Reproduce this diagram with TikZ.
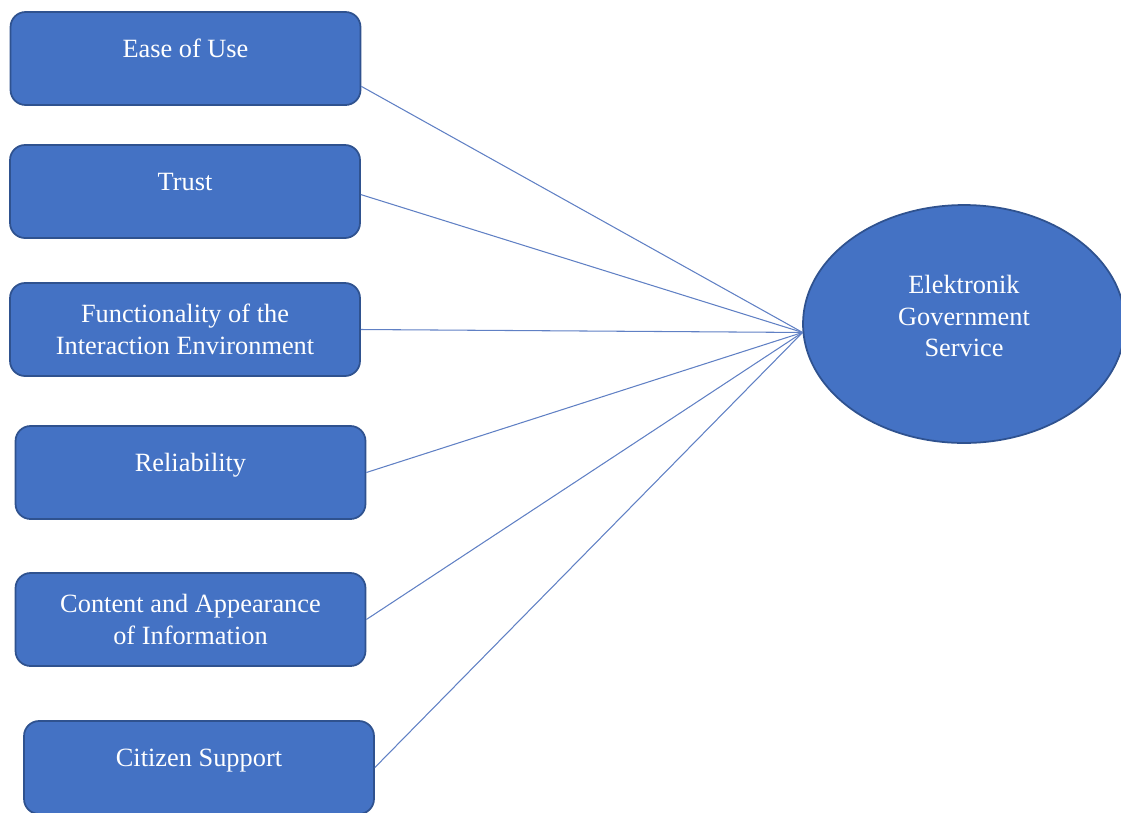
\documentclass[tikz,border=0pt]{standalone}
\usepackage{fontspec}
\setmainfont{Liberation Serif}
\usepackage{xcolor}
\usepackage{tikz}
\usetikzlibrary{positioning,shapes.geometric}

\definecolor{boxfill}{RGB}{68,114,196}
\definecolor{boxline}{RGB}{47,82,143}
\definecolor{linkline}{RGB}{96,128,196}

\begin{document}
\begin{tikzpicture}[
			x=0.02cm, y=-0.02cm,
			font=\fontsize{15}{18}\selectfont,
			box/.style={draw=boxline, line width=1pt, fill=boxfill, text=white, rectangle, rounded corners=0.3cm, align=center, minimum width=7cm, minimum height=1.86cm},
			onebox/.style={box, text height=10pt, text depth=11.4pt},
			goal/.style={draw=boxline, line width=1pt, fill=boxfill, ellipse, minimum width=6.44cm, minimum height=4.76cm},
			link/.style={draw=linkline, line width=0.6pt}
			]
			\useasboundingbox (0,0) rectangle (1121,812);
			
			%==================== factors ====================
			\node[onebox] (ease) at (185.5,58.5) {Ease of Use};
			\node[onebox] (trust) at (185,191.5) {Trust};
			\node[box] (func) at (185,329.5) {Functionality of the\\Interaction Environment};
			\node[onebox] (reli) at (190.5,472.5) {Reliability};
			\node[box] (content) at (190.5,619.5) {Content and Appearance\\of Information};
			\node[onebox] (citizen) at (199,767.5) {Citizen Support};
			
			%==================== service ====================
			\node[goal, label={[text=white, align=center, yshift=0.16cm]center:Elektronik\\Government\\Service}] (egov) at (964,324) {};
			
			%==================== links ====================
			\draw[link] (ease.-9.4) -- (egov.183);
			\draw[link] (trust.-1.2) -- (egov.183);
			\draw[link] (func.east) -- (egov.183);
			\draw[link] (reli.east) -- (egov.183);
			\draw[link] (content.east) -- (egov.183);
			\draw[link] (citizen.east) -- (egov.183);
			
		\end{tikzpicture}
\end{document}
